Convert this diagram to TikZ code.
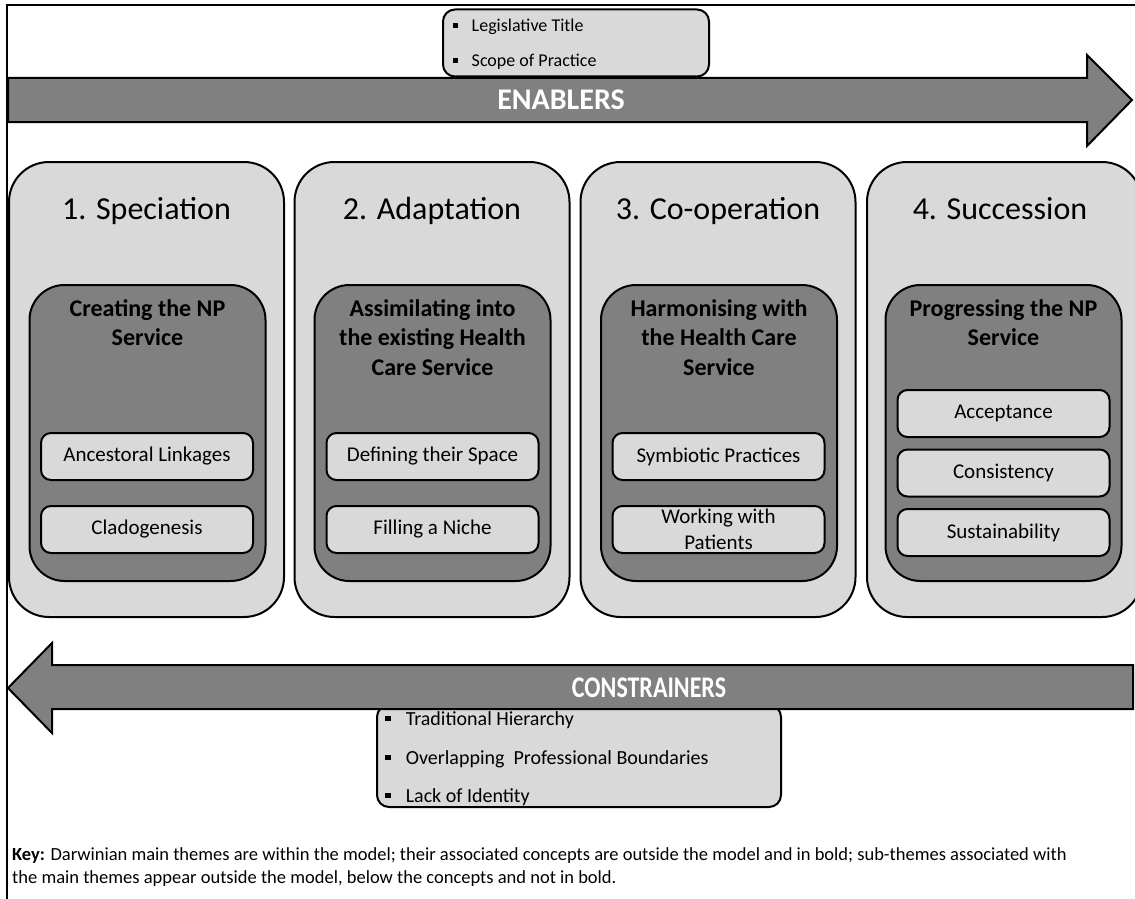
\documentclass[tikz,border=0pt]{standalone}
\usepackage{fontspec}
\setmainfont{Carlito}
\usetikzlibrary{positioning}

\definecolor{lightfill}{HTML}{D9D9D9}
\definecolor{darkfill}{HTML}{808080}

\newcommand{\sqbul}{\raisebox{0.2em}{\rule{0.28em}{0.28em}}\hspace{0.75em}}

\tikzset{
  phase/.style={draw=black,line width=2pt,fill=lightfill,rounded corners=40pt,
    minimum width=275pt,minimum height=455pt,inner sep=0pt},
  concept/.style={draw=black,line width=2pt,fill=darkfill,rounded corners=35pt,
    minimum width=236pt,minimum height=296pt,inner sep=0pt},
  subtheme/.style={draw=black,line width=2pt,fill=lightfill,rounded corners=10pt,
    minimum width=212pt,minimum height=47pt,inner sep=0pt,align=center,
    font=\fontsize{21}{26}\selectfont},
  phasetitle/.style={anchor=base,inner sep=0pt,font=\fontsize{32}{38}\selectfont},
  concepttitle/.style={anchor=north,inner sep=0pt,align=center,
    font=\fontsize{24}{29.5}\selectfont\bfseries},
  bigarrow/.style={draw=black,line width=2pt,fill=darkfill},
  arrowlabel/.style={inner sep=0pt,text=white,font=\fontsize{30}{36}\selectfont\bfseries},
  listbox/.style={draw=black,line width=2pt,fill=lightfill,rounded corners=12pt,inner sep=0pt},
  listitem/.style={anchor=west,inner sep=0pt,font=\fontsize{18}{22}\selectfont},
  keyline/.style={anchor=base west,inner sep=0pt,font=\fontsize{18.5}{23}\selectfont},
}

\begin{document}
\begin{tikzpicture}[x=1pt,y=-1pt]
        \useasboundingbox (0,0) rectangle (1135,899);
        \clip (0,0) rectangle (1135,899);
        \fill[white] (0,0) rectangle (1135,899);

        \draw[line width=2pt] (7,899) -- (7,5) -- (1135,5);% frame

        % enablers
        \draw[bigarrow] (8,78) -- (1087,78) -- (1087,55) -- (1132,100)
            -- (1087,146) -- (1087,122) -- (8,122) -- cycle;
        \node[arrowlabel] (enablers) at (561,100) {ENABLERS};
        \node[listbox,minimum width=266pt,minimum height=67pt] (enablebox) at (576,43) {};
        \node[listitem] (legis) at (453,27) {\sqbul Legislative Title};
        \node[listitem] (scope) at (453,62) {\sqbul Scope of Practice};

        % the four phases
        \node[phase] (spec) at (146.5,389.5) {};
        \node[phase] (adapt) at (432,389.5) {};
        \node[phase] (coop) at (718,389.5) {};
        \node[phase] (succ) at (1004.5,389.5) {};

        \node[phasetitle] (spectitle) at (146.5,219) {1. Speciation};
        \node[phasetitle] (adapttitle) at (432,219) {2. Adaptation};
        \node[phasetitle] (cooptitle) at (718,219) {3. Co-operation};
        \node[phasetitle] (succtitle) at (1000,219) {4. Succession};

        \node[concept] (create) at (147.5,433) {};
        \node[concept] (assim) at (432.5,433) {};
        \node[concept] (harmon) at (719,433) {};
        \node[concept] (progress) at (1003.5,433) {};

        \node[concepttitle] at (147.5,299) (createtitle) {Creating the NP\\Service};
        \node[concepttitle] at (432.5,299) (assimtitle) {Assimilating into\\the existing Health\\Care Service};
        \node[concepttitle] at (719,299) (harmontitle) {Harmonising with\\the Health Care\\Service};
        \node[concepttitle] at (1003.5,299) (progresstitle) {Progressing the NP\\Service};

        % sub-themes
        \node[subtheme] (ancestor) at (147,456.5) {Ancestoral Linkages};
        \node[subtheme,below=24pt of ancestor] (clado) {Cladogenesis};
        \node[subtheme] (space) at (432.5,456.5) {Defining their Space};
        \node[subtheme,below=24pt of space] (niche) {Filling a Niche};
        \node[subtheme] (symbio) at (718.5,456.5) {Symbiotic Practices};
        \node[subtheme,below=24pt of symbio] (patients) {Working with\\Patients};
        \node[subtheme] (accept) at (1003.5,413.5) {Acceptance};
        \node[subtheme,below=10.5pt of accept] (consist) {Consistency};
        \node[subtheme,below=10.5pt of consist] (sustain) {Sustainability};

        % constrainers
        \node[listbox,minimum width=404pt,minimum height=102pt] (constrainbox) at (579,756) {};
        \node[listitem,font=\fontsize{20}{24}\selectfont] (hierarchy) at (385,720) {\sqbul Traditional Hierarchy};
        \node[listitem,font=\fontsize{20}{24}\selectfont] (overlap) at (385,759) {\sqbul Overlapping\ \ Professional Boundaries};
        \node[listitem,font=\fontsize{20}{24}\selectfont] (identity) at (385,797) {\sqbul Lack of Identity};
        \draw[bigarrow] (1133,665) -- (52,665) -- (52,643) -- (8,688)
            -- (52,733) -- (52,709) -- (1133,709) -- cycle;
        \node[arrowlabel] (constrainers) at (649,688) {\scalebox{0.8}[1]{CONSTRAINERS}};

        % key
        \node[keyline] (key1) at (12,860) {\textbf{Key:} Darwinian main themes are within the model; their associated concepts are outside the model and in bold; sub-themes associated with};
        \node[keyline] (key2) at (12,883) {the main themes appear outside the model, below the concepts and not in bold.};

    \end{tikzpicture}
\end{document}
